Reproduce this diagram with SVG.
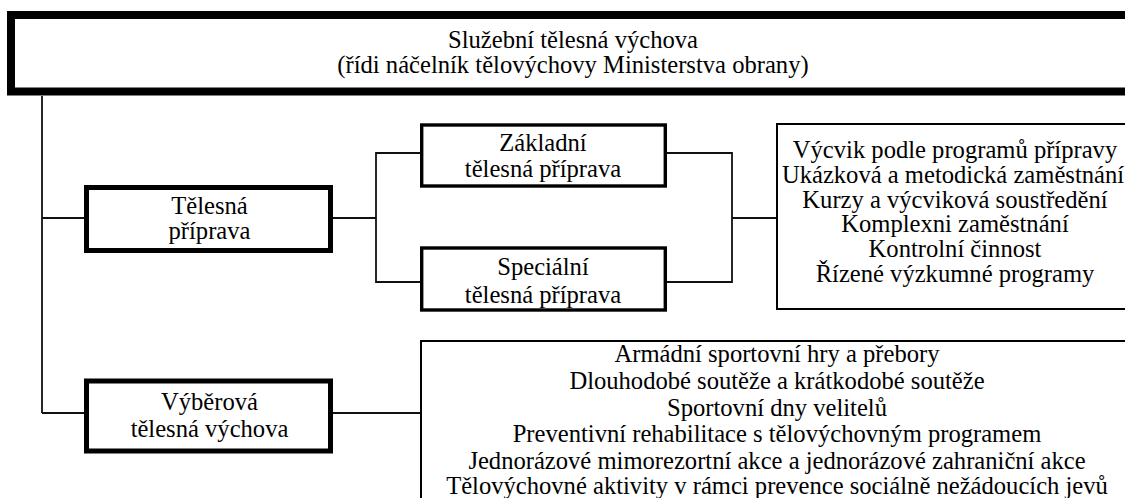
<svg xmlns="http://www.w3.org/2000/svg" width="1125" height="498" viewBox="0 0 1125 498">
  <style>
    .t { font-family: 'Liberation Serif', 'Times New Roman', Times, serif; font-size: 24.6px; fill: #000; text-anchor: middle; }
    .thick { fill: #fff; stroke: #000; stroke-width: 8; }
    .bold { fill: #fff; stroke: #000; stroke-width: 5; }
    .mid { fill: #fff; stroke: #000; stroke-width: 3.4; }
    .thin { fill: #fff; stroke: #000; stroke-width: 2; }
    .conn { fill: none; stroke: #111; stroke-width: 1.8; }
  </style>
  <rect width="1125" height="498" fill="#fff"/>
  <g id="connectors">
    <path class="conn" d="M42,96 V413"/>
    <path class="conn" d="M42,218 H84 M333,218 H376"/>
    <path class="conn" d="M420,153 H376 V282 H420"/>
    <path class="conn" d="M667,153 H732 V282 H667 M732,218 H776"/>
    <path class="conn" d="M42,413 H84 M333,413 H420"/>
  </g>
  <g font-family="Liberation Serif, Times New Roman, serif">
  <g id="node-sluzebni">
    <rect class="thick" x="11" y="15" width="1130" height="76.5"/>
    <text class="t" x="573" y="48">Služební tělesná výchova</text>
    <text class="t" x="573" y="73">(řídi náčelník tělovýchovy Ministerstva obrany)</text>
  </g>
  <g id="node-telesna-priprava">
    <rect class="bold" x="86.5" y="187.5" width="244" height="63"/>
    <text class="t" x="209.5" y="214">Tělesná</text>
    <text class="t" x="209.5" y="239">příprava</text>
  </g>
  <g id="node-zakladni">
    <rect class="mid" x="421.7" y="125" width="243.6" height="61"/>
    <text class="t" x="543" y="151">Základní</text>
    <text class="t" x="543" y="177">tělesná příprava</text>
  </g>
  <g id="node-specialni">
    <rect class="mid" x="421.7" y="248" width="243.6" height="62"/>
    <text class="t" x="543" y="275">Speciální</text>
    <text class="t" x="543" y="303">tělesná příprava</text>
  </g>
  <g id="node-vycvik">
    <rect class="thin" x="777" y="124" width="400" height="185"/>
    <text class="t" x="955" y="158">Výcvik podle programů přípravy</text>
    <text class="t" x="953" y="182.8">Ukázková a metodická zaměstnání</text>
    <text class="t" x="955" y="207.6">Kurzy a výcviková soustředění</text>
    <text class="t" x="955" y="232.4">Komplexni zaměstnání</text>
    <text class="t" x="955" y="257.2">Kontrolní činnost</text>
    <text class="t" x="955" y="282">Řízené výzkumné programy</text>
  </g>
  <g id="node-vyberova">
    <rect class="bold" x="86.5" y="381" width="244" height="70"/>
    <text class="t" x="209.5" y="410">Výběrová</text>
    <text class="t" x="209.5" y="437">tělesná výchova</text>
  </g>
  <g id="node-aktivity">
    <rect class="thin" x="421" y="341" width="800" height="300"/>
    <text class="t" x="777" y="362">Armádní sportovní hry a přebory</text>
    <text class="t" x="777" y="389">Dlouhodobé soutěže a krátkodobé soutěže</text>
    <text class="t" x="777" y="416">Sportovní dny velitelů</text>
    <text class="t" x="777" y="442">Preventivní rehabilitace s tělovýchovným programem</text>
    <text class="t" x="777" y="469">Jednorázové mimorezortní akce a jednorázové zahraniční akce</text>
    <text class="t" x="777" y="494">Tělovýchovné aktivity v rámci prevence sociálně nežádoucích jevů</text>
  </g>
  </g>
</svg>
